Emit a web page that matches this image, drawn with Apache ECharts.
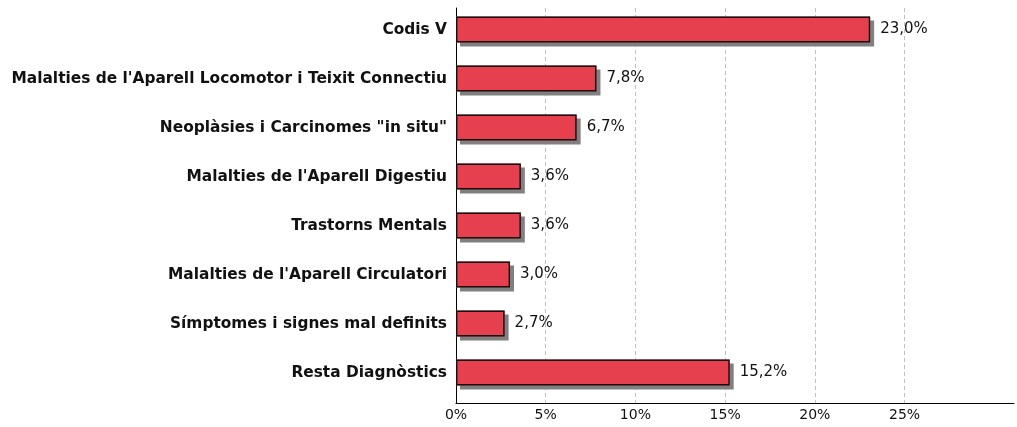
<!DOCTYPE html>
<html>
<head>
<meta charset="utf-8">
<script src="https://cdn.jsdelivr.net/npm/echarts@6/dist/echarts.min.js"></script>
<style>
  html, body { margin: 0; padding: 0; background: #ffffff; }
  #chart { width: 1017px; height: 427px; }
</style>
</head>
<body>
<div id="chart"></div>
<script>
// Diagnosis groups, listed top to bottom
const categories = [
  'Codis V',
  "Malalties de l'Aparell Locomotor i Teixit Connectiu",
  'Neoplàsies i Carcinomes "in situ"',
  "Malalties de l'Aparell Digestiu",
  'Trastorns Mentals',
  "Malalties de l'Aparell Circulatori",
  'Símptomes i signes mal definits',
  'Resta Diagnòstics'
];
// Share of cases, in percent
const shares = [23.0, 7.8, 6.7, 3.6, 3.6, 3.0, 2.7, 15.2];
// Labelled ticks on the value axis
const tickLabels = [0, 5, 10, 15, 20, 25];

const fmtPct = v => v.toFixed(1).replace('.', ',') + '%';
const gridColor = '#c0c0c0';
const barColor = '#e6404f';

const chart = echarts.init(document.getElementById('chart'), null, { renderer: 'canvas' });

const valueAxisBase = {
  type: 'value',
  min: 0,
  max: 31.1,
  interval: 5
};

chart.setOption({
  animation: false,
  backgroundColor: '#ffffff',
  grid: [
    // frame: axis lines, dashed grid and tick labels
    { left: 456, right: 1, top: 8, bottom: 24, containLabel: false },
    // bars and category labels
    { left: 456, right: 1, top: 5, bottom: 30, containLabel: false }
  ],
  xAxis: [
    Object.assign({}, valueAxisBase, {
      gridIndex: 0,
      axisLine: { show: true, lineStyle: { color: '#000', width: 1 } },
      axisTick: { show: false },
      splitLine: {
        show: true,
        showMaxLine: false,
        lineStyle: {
          color: tickLabels.map(() => gridColor).concat(['rgba(0,0,0,0)']),
          type: [4, 3],
          width: 1
        }
      },
      axisLabel: {
        show: true,
        margin: 5,
        color: '#111',
        fontFamily: 'DejaVu Sans',
        fontSize: 14,
        formatter: v => (tickLabels.indexOf(v) >= 0 ? v + '%' : '')
      }
    }),
    Object.assign({}, valueAxisBase, {
      gridIndex: 1,
      show: false
    })
  ],
  yAxis: [
    {
      type: 'category',
      gridIndex: 0,
      inverse: true,
      data: categories,
      axisLine: { show: true, onZero: false, lineStyle: { color: '#000', width: 1 } },
      axisTick: { show: false },
      axisLabel: { show: false },
      splitLine: { show: false }
    },
    {
      type: 'category',
      gridIndex: 1,
      inverse: true,
      data: categories,
      axisLine: { show: false },
      axisTick: { show: false },
      splitLine: { show: false },
      axisLabel: {
        margin: 9,
        color: '#111',
        fontFamily: 'DejaVu Sans',
        fontWeight: 'bold',
        fontSize: 15.4
      }
    }
  ],
  series: [
    {
      // drop shadow layer (fill only, so the border casts no inner shadow)
      type: 'bar',
      xAxisIndex: 1,
      yAxisIndex: 1,
      data: shares,
      barWidth: 26,
      silent: true,
      itemStyle: {
        color: barColor,
        borderWidth: 0,
        shadowColor: '#808080',
        shadowBlur: 0,
        shadowOffsetX: 4,
        shadowOffsetY: 4
      },
      emphasis: { disabled: true }
    },
    {
      // outlined bars with value labels
      type: 'bar',
      xAxisIndex: 1,
      yAxisIndex: 1,
      data: shares,
      barWidth: 26,
      barGap: '-100%',
      itemStyle: {
        color: barColor,
        borderColor: '#111111',
        borderWidth: 1.4
      },
      label: {
        show: true,
        position: 'right',
        distance: 10,
        color: '#111',
        fontFamily: 'DejaVu Sans',
        fontSize: 15,
        formatter: p => fmtPct(p.value)
      },
      emphasis: { disabled: true }
    }
  ]
});
</script>
</body>
</html>
